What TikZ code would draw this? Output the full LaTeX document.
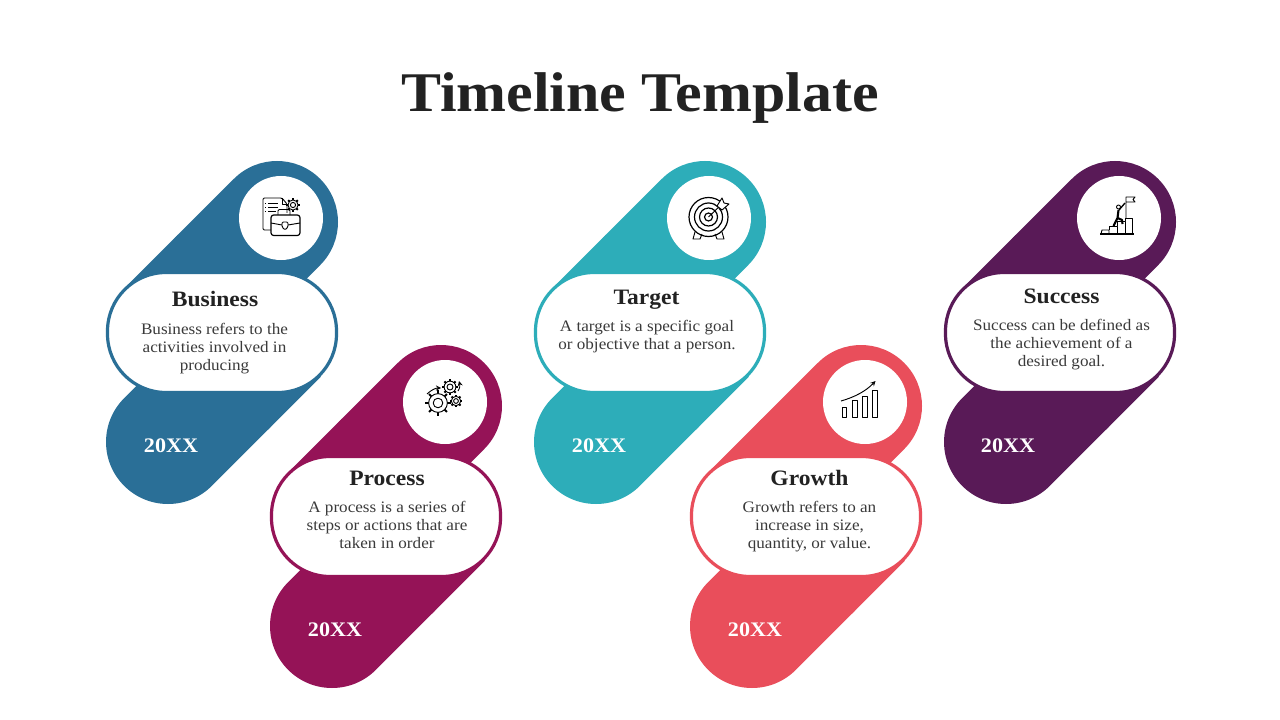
\documentclass[tikz,border=0pt]{standalone}
\usepackage{fontspec}
\setmainfont[FakeStretch=1.07]{Liberation Serif}
\usetikzlibrary{arrows}
\definecolor{bizblue}{HTML}{2A6F97}
\definecolor{procred}{HTML}{951357}
\definecolor{targteal}{HTML}{2DADB9}
\definecolor{growcoral}{HTML}{E94E5B}
\definecolor{succplum}{HTML}{591A57}
\definecolor{inkgrey}{HTML}{222222}
\definecolor{bodygrey}{HTML}{3A3A3A}
\tikzset{
  headtext/.style={text=inkgrey,font=\fontsize{16.5}{18}\selectfont\bfseries},
  bodytext/.style={text=bodygrey,align=center,font=\fontsize{12}{13.5}\selectfont},
  yeartext/.style={text=white,font=\fontsize{15.5}{18}\selectfont\bfseries},
  icon/.style={draw=black,line width=0.7pt,line join=round,fill=none},
}
% capsule pair, pill and icon disc
\newcommand{\stepshape}[3]{
  \begin{scope}[shift={(#2,#3)}]
    \draw [#1, line width=91.5pt, line cap=round] (277,222) -- (221,278);
    \draw [#1, line width=91.5pt] (221,278) -- (167,332);
    \draw [#1, line width=93pt, line cap=round] (168,442) -- (224,386);
    \draw [#1, line width=93pt] (224,386) -- (277,333);
    \draw [#1, line width=2.4pt, fill=white, rounded corners=43.9pt] (107.5,272.5) rectangle (336.5,392.5);
    \fill [white] (281,218) circle (42);
  \end{scope}
}
\newcommand{\gearicon}[3]{
  \foreach \a in {0,45,...,315}
    \draw [icon, line width=1.5pt] (#1,#2) ++(\a:#3*0.78) -- ++(\a:#3*0.28);
  \draw [icon, fill=white] (#1,#2) circle (#3*0.78);
  \draw [icon] (#1,#2) circle (#3*0.4);
}
\begin{document}
\begin{tikzpicture}[x=0.75pt,y=-0.75pt]
  \useasboundingbox (0,0) rectangle (1280,720);
  \fill [white] (0,0) rectangle (1280,720);

  \node [text=inkgrey,font=\fontsize{42}{46}\selectfont\bfseries] (TitleNode) at (640,98.5) {Timeline Template};

  \stepshape{bizblue}{0}{0}
  \stepshape{procred}{164}{184}
  \stepshape{targteal}{428}{0}
  \stepshape{growcoral}{584}{184}
  \stepshape{succplum}{838}{0}

  \node [headtext] (BusinessHead) at (215,299) {Business};
  \node [bodytext] (BusinessBody) at (214.5,349) {Business refers to the\\activities involved in\\producing};
  \node [yeartext] (BusinessYear) at (171,446) {20XX};

  \node [headtext] (ProcessHead) at (387,478) {Process};
  \node [bodytext] (ProcessBody) at (387,525) {A process is a series of\\steps or actions that are\\taken in order};
  \node [yeartext] (ProcessYear) at (335,630) {20XX};

  \node [headtext] (TargetHead) at (646.5,300) {Target};
  \node [bodytext] (TargetBody) at (647,337) {A target is a specific goal\\or objective that a person.};
  \node [yeartext] (TargetYear) at (599,446) {20XX};

  \node [headtext] (GrowthHead) at (809.5,478) {Growth};
  \node [bodytext] (GrowthBody) at (809.5,527) {Growth refers to an\\increase in size,\\quantity, or value.};
  \node [yeartext] (GrowthYear) at (755,630) {20XX};

  \node [headtext] (SuccessHead) at (1061.5,296) {Success};
  \node [bodytext] (SuccessBody) at (1061.5,345) {Success can be defined as\\the achievement of a\\desired goal.};
  \node [yeartext] (SuccessYear) at (1008,446) {20XX};

  % business icon
  \gearicon{293}{205}{6.5}
  \draw [icon, rounded corners=1pt] (271,230) -- (263,230) -- (263,198) -- (282,198) -- (287,204) -- (287,213);
  \draw [icon] (282,198) -- (282,204) -- (287,204);
  \draw [icon] (265,203) -- (266,203) (268,203) -- (278,203);
  \draw [icon] (265,207) -- (266,207) (268,207) -- (278,207);
  \draw [icon] (265,211) -- (266,211) (268,211) -- (276,211);
  \draw [icon, rounded corners=1pt] (278,215) -- (278,209.5) -- (290,209.5) -- (290,215);
  \draw [icon, rounded corners=2pt, line width=0.9pt, fill=white] (271,215) rectangle (300,235.5);
  \draw [icon] (271,223) -- (282,225) (288,225) -- (300,223);
  \draw [icon, rounded corners=1pt] (282,222) -- (288,222) -- (288,227) -- (285,230) -- (282,227) -- cycle;

  % process icon
  \gearicon{450}{387}{7.5}
  \gearicon{456}{401}{6}
  \gearicon{438}{403}{12}
  \draw [icon, -stealth] (427,394) .. controls (431,390) and (436,388) .. (441,388);
  \draw [icon, -stealth] (458,391) .. controls (460,388) and (460,385) .. (459,381);

  % target icon
  \draw [icon, line width=0.9pt] (708.5,217) circle (19.5);
  \draw [icon, line width=0.9pt] (708.5,217) circle (14);
  \draw [icon, line width=0.9pt] (708.5,217) circle (9);
  \draw [icon, line width=0.9pt] (708.5,217) circle (4);
  \draw [icon] (708.5,217) -- (723,203);
  \draw [icon, fill=white] (717,206) -- (722,198) -- (724,203) -- (729,204) -- (722,210) -- cycle;
  \draw [icon] (695,232) -- (693,239) -- (700,239) -- (702,234);
  \draw [icon] (722,232) -- (724,239) -- (717,239) -- (715,234);

  % growth icon
  \draw [icon] (842,407) rectangle (846.5,417);
  \draw [icon] (852,400.5) rectangle (857,417);
  \draw [icon] (862.5,396) rectangle (867.5,417);
  \draw [icon] (872.5,390.5) rectangle (877.5,417);
  \draw [icon, -stealth] (841,401) .. controls (855,397) and (866,391) .. (875.5,381);

  % success icon
  \draw [icon, line width=0.9pt] (1100,234) -- (1134,234);
  \draw [icon] (1101,234) -- (1102,230) -- (1109,230) -- (1109,234);
  \draw [icon] (1109,230) -- (1109,226.5) -- (1117,226.5) -- (1117,234);
  \draw [icon] (1117,226.5) -- (1117,221) -- (1125,221) -- (1125,234);
  \draw [icon] (1125,221) -- (1125,218) -- (1132,218) -- (1132,234);
  \draw [icon] (1126,218) -- (1126,197) -- (1135,197) -- (1133,199.5) -- (1135,202) -- (1126,202);
  \draw [icon] (1118.5,207) circle (2);
  \draw [icon, line width=1.6pt] (1118.5,210) -- (1117.5,218) -- (1113.5,226);
  \draw [icon, line width=1.6pt] (1117.5,218) -- (1122,220) -- (1122.5,224);
  \draw [icon, line width=1pt] (1119,210) -- (1125,203);
\end{tikzpicture}
\end{document}
